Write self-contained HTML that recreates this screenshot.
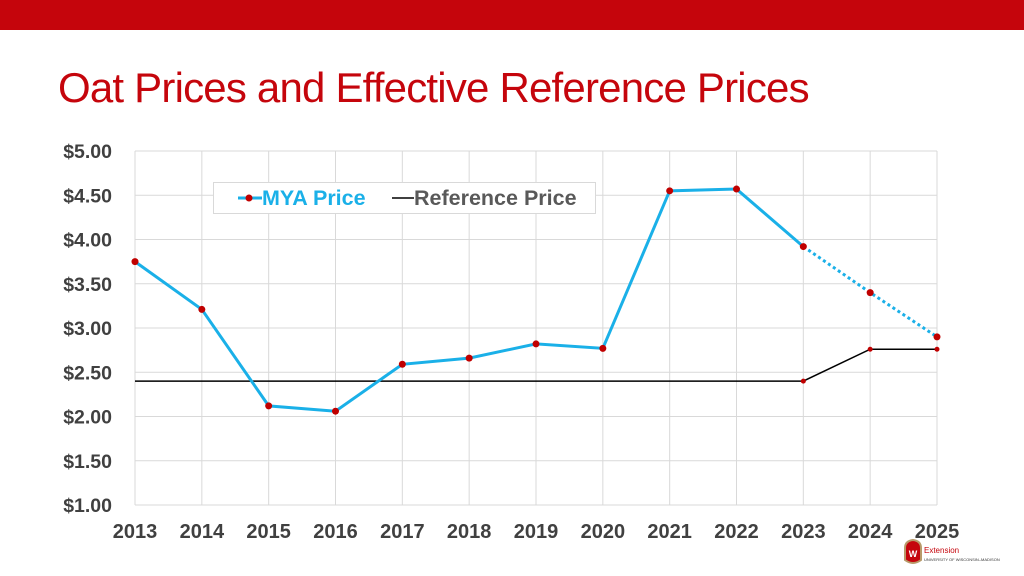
<!DOCTYPE html>
<html><head><meta charset="utf-8"><style>
body{margin:0;width:1024px;height:576px;background:#fff;overflow:hidden;font-family:"Liberation Sans",Arial,sans-serif;position:relative}
#bar{position:absolute;left:0;top:0;width:1024px;height:30px;background:#c5050c}
#title{position:absolute;left:58px;top:64px;font-size:42px;color:#c5050c;letter-spacing:-0.8px;white-space:nowrap}
svg{position:absolute;left:0;top:0}
</style></head><body>
<div id="bar"></div>
<div id="title">Oat Prices and Effective Reference Prices</div>
<svg id="chart" width="1024" height="576"></svg>
<script>
const years=["2013","2014","2015","2016","2017","2018","2019","2020","2021","2022","2023","2024","2025"];
const myaPrice=[3.75,3.21,2.12,2.06,2.59,2.66,2.82,2.77,4.55,4.57,3.92,3.40,2.90];
const refPrice=[2.40,2.40,2.40,2.40,2.40,2.40,2.40,2.40,2.40,2.40,2.40,2.76,2.76];
const yTicks=[1,1.5,2,2.5,3,3.5,4,4.5,5];
const projectedFrom=10;
const refMarkersFrom=10;
const NS="http://www.w3.org/2000/svg";
const svg=document.getElementById('chart');
const x0=135,x1=937,yTop=151,yBot=505;
const X=i=>x0+(x1-x0)*i/(years.length-1);
const Y=v=>yBot-(v-1)/(5-1)*(yBot-yTop);
function mk(t,a){const e=document.createElementNS(NS,t);for(const k in a)e.setAttribute(k,a[k]);svg.appendChild(e);return e;}
yTicks.forEach(v=>{
 const l=mk('line',{x1:x0,x2:x1,y1:Y(v),y2:Y(v),stroke:'#d9d9d9','stroke-width':1});
 
 
 const t=mk('text',{x:112,y:Y(v)+7,'text-anchor':'end','font-size':19.5,'font-weight':'bold',fill:'#404040'});
 t.textContent='$'+v.toFixed(2);
 
 
});
years.forEach((yr,i)=>{
 const l=mk('line',{x1:X(i),x2:X(i),y1:yTop,y2:yBot,stroke:'#d9d9d9','stroke-width':1});
 
 
 const t=mk('text',{x:X(i),y:538,'text-anchor':'middle','font-size':20,'font-weight':'bold',fill:'#404040'});
 t.textContent=yr;
 
 
});
const rp=mk('polyline',{points:refPrice.map((v,i)=>X(i)+','+Y(v)).join(' '),fill:'none',stroke:'#000','stroke-width':1.5});


refPrice.forEach((v,i)=>{if(i>=refMarkersFrom){
 const c=mk('circle',{cx:X(i),cy:Y(v),r:2.5,fill:'#c00000'});
 
 
}});
const solid=mk('polyline',{points:myaPrice.slice(0,projectedFrom+1).map((v,i)=>X(i)+','+Y(v)).join(' '),fill:'none',stroke:'#1ab0e8','stroke-width':3});


const dot=mk('polyline',{points:myaPrice.slice(projectedFrom).map((v,i)=>X(i+projectedFrom)+','+Y(v)).join(' '),fill:'none',stroke:'#1ab0e8','stroke-width':3,'stroke-dasharray':'3 3'});


myaPrice.forEach((v,i)=>{
 const c=mk('circle',{cx:X(i),cy:Y(v),r:3.5,fill:'#c00000'});
 
 
});
const lg=mk('rect',{x:213.5,y:182.5,width:382,height:31,fill:'#fff',stroke:'#d9d9d9'});


const l1=mk('line',{x1:238,x2:262,y1:198,y2:198,stroke:'#1ab0e8','stroke-width':3});


mk('circle',{cx:249,cy:198,r:3.5,fill:'#c00000'});
const t1=mk('text',{x:262,y:205,'font-size':21.5,'font-weight':'bold',fill:'#1ab0e8'});
t1.textContent='MYA Price';


const l2=mk('line',{x1:392,x2:414,y1:198,y2:198,stroke:'#000','stroke-width':1.5});


const t2=mk('text',{x:414,y:205,'font-size':21.5,'font-weight':'bold',fill:'#595959'});
t2.textContent='Reference Price';


const g=mk('path',{d:'M905 548 Q905 541 913 540 Q921 541 921 548 L921 560 Q913 566 905 560 Z',fill:'#c5050c',stroke:'#b89a6a','stroke-width':2});


const w=mk('text',{x:913,y:557,'text-anchor':'middle','font-size':9,'font-weight':'bold',fill:'#fff'});w.textContent='W';
const e1=mk('text',{x:924,y:553,'font-size':8,fill:'#c5050c'});e1.textContent='Extension';


const e2=mk('text',{x:924,y:561,'font-size':4,fill:'#333'});e2.textContent='UNIVERSITY OF WISCONSIN–MADISON';
</script>
</body></html>
